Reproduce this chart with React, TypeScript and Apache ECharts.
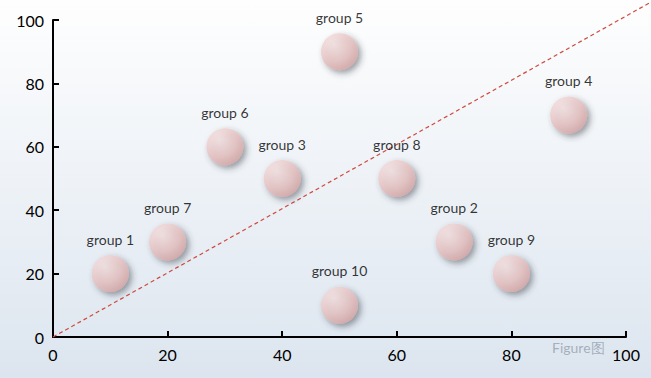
import React, { useEffect, useRef } from "react";
import * as echarts from "echarts";

const groups = ["group 1", "group 2", "group 3", "group 4", "group 5", "group 6", "group 7", "group 8", "group 9", "group 10"];
const xValues = [10, 70, 40, 90, 50, 30, 20, 60, 80, 50];
const yValues = [20, 30, 50, 70, 90, 60, 30, 50, 20, 10];
const diagonalStart = [0, 0];
const diagonalEnd = [104.5, 105.8];

export default function App() {
  const ref = useRef<HTMLDivElement>(null);
  useEffect(() => {
    const chart = echarts.init(ref.current!, null, { renderer: "svg" });
    const font = "Lato, 'Open Sans', sans-serif";
    chart.setOption({
      animation: false,
      backgroundColor: new echarts.graphic.LinearGradient(0, 0, 0, 1, [
        { offset: 0, color: "#fefefe" },
        { offset: 1, color: "#dce5ef" },
      ]),
      grid: { left: 53, right: 25, top: 20, bottom: 41 },
      xAxis: {
        type: "value", min: 0, max: 100, interval: 20,
        splitLine: { show: false },
        axisLine: { onZero: false, lineStyle: { color: "#000", width: 2 } },
        axisTick: { inside: true, length: 6, lineStyle: { color: "#000", width: 2 } },
        axisLabel: { color: "#000", fontSize: 16, fontFamily: font, margin: 9 },
      },
      yAxis: {
        type: "value", min: 0, max: 100, interval: 20,
        splitLine: { show: false },
        axisLine: { show: true, onZero: false, lineStyle: { color: "#000", width: 2 } },
        axisTick: { show: true, inside: true, length: 6, lineStyle: { color: "#000", width: 2 } },
        axisLabel: { color: "#000", fontSize: 16, fontFamily: font, margin: 9 },
      },
      series: [
        {
          type: "custom",
          clip: false,
          silent: true,
          data: [[diagonalStart[0], diagonalStart[1], diagonalEnd[0], diagonalEnd[1]]],
          renderItem: (params: any, api: any) => {
            const p1 = api.coord([api.value(0), api.value(1)]);
            const p2 = api.coord([api.value(2), api.value(3)]);
            return {
              type: "line",
              shape: { x1: p1[0], y1: p1[1], x2: p2[0], y2: p2[1] },
              style: { stroke: "#cf4a3e", lineWidth: 1.2, lineDash: [4, 3] },
            };
          },
          z: 1,
        },
        {
          type: "scatter",
          data: groups.map((g, i) => ({ name: g, value: [xValues[i], yValues[i]] })),
          symbolSize: 37,
          itemStyle: {
            color: new echarts.graphic.RadialGradient(0.35, 0.3, 0.75, [
              { offset: 0, color: "#f8e6e6" },
              { offset: 0.6, color: "#ebc6c6" },
              { offset: 1, color: "#d8a9a9" },
            ]),
            shadowColor: "rgba(50,55,65,0.6)",
            shadowBlur: 6,
            shadowOffsetX: 3,
            shadowOffsetY: 3,
          },
          label: {
            show: true,
            position: "top",
            distance: 9,
            formatter: "{b}",
            color: "#000",
            fontSize: 14,
            fontFamily: font,
          },
          z: 3,
        },
      ],
      graphic: [
        {
          type: "text",
          left: 552,
          top: 340,
          style: { text: "Figure图", fill: "rgba(150,160,175,0.8)", fontSize: 14, fontFamily: font },
          z: 10,
        },
      ],
    });
    return () => chart.dispose();
  }, []);
  return <div ref={ref} style={{ width: 651, height: 378, position: "absolute", left: 0, top: 0 }} />;
}
